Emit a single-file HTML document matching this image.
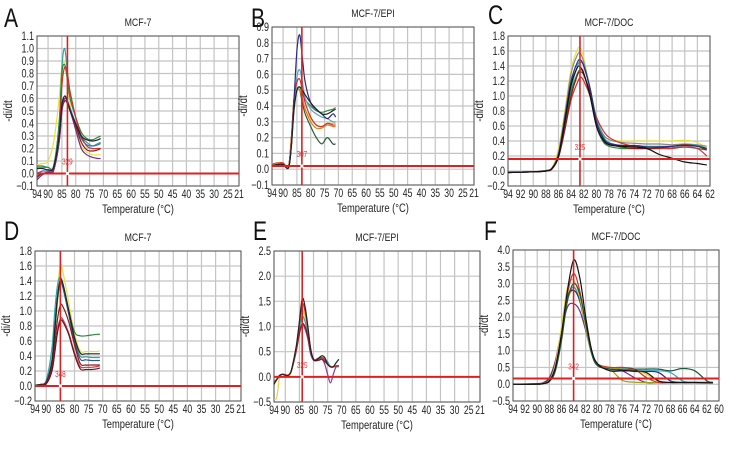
<!DOCTYPE html>
<html><head><meta charset="utf-8">
<style>
body{margin:0;background:#fff;}
svg{display:block;font-family:"Liberation Sans",sans-serif;}
</style></head>
<body>
<svg id="fig" width="733" height="451" viewBox="0 0 733 451"></svg>
<script>
// ---------- DATA ----------
const tempsA=[94,92,90,88,86,85,84,83,82,80,78,76,74,72,71];
const tealA=[0.05,0.05,0.05,0.06,0.4,0.85,1.0,0.8,0.6,0.45,0.3,0.25,0.22,0.24,0.25];
const greenA=[0.06,0.06,0.05,0.06,0.4,0.8,0.87,0.75,0.6,0.45,0.33,0.28,0.27,0.29,0.30];
const yellowA=[0.07,0.08,0.1,0.25,0.6,0.85,0.88,0.75,0.55,0.35,0.22,0.17,0.15,0.15,0.15];
const redA=[-0.02,0,0.01,0.02,0.3,0.7,0.85,0.8,0.65,0.45,0.3,0.22,0.2,0.2,0.2];
const blackA=[0.04,0.04,0.03,0.05,0.3,0.55,0.62,0.58,0.5,0.4,0.3,0.27,0.26,0.27,0.28];
const purpleA=[-0.05,-0.01,0.01,0.03,0.25,0.5,0.6,0.57,0.5,0.35,0.2,0.15,0.13,0.12,0.12];
const blueA=[0.0,0.02,0.02,0.04,0.3,0.55,0.6,0.58,0.52,0.4,0.28,0.23,0.22,0.23,0.24];
const darkredA=[-0.03,0,0.01,0.03,0.25,0.5,0.58,0.56,0.5,0.38,0.25,0.19,0.18,0.19,0.2];

const tempsB=[94,92,90,88,87,86,85,84,83,82,80,78,76,74,72,71];
const navyB=[0.02,0.03,0.03,0.01,0.15,0.45,0.75,0.85,0.7,0.55,0.42,0.38,0.35,0.32,0.35,0.33];
const lightblueB=[0.03,0.04,0.03,0.02,0.15,0.4,0.58,0.63,0.55,0.45,0.38,0.35,0.33,0.32,0.3,0.3];
const darkgreenB=[0.02,0.04,0.03,0.02,0.2,0.45,0.5,0.5,0.42,0.35,0.27,0.2,0.16,0.2,0.16,0.16];
const blackB=[0.02,0.03,0.03,0.01,0.15,0.38,0.5,0.52,0.5,0.47,0.42,0.38,0.35,0.35,0.37,0.38];
const redB=[0.03,0.04,0.04,0.02,0.2,0.45,0.55,0.57,0.5,0.42,0.33,0.28,0.27,0.29,0.28,0.28];
const orangeB=[0.02,0.04,0.03,0.02,0.18,0.42,0.5,0.5,0.45,0.38,0.3,0.26,0.26,0.28,0.27,0.27];
const greenB=[0.02,0.03,0.03,0.02,0.18,0.4,0.5,0.52,0.48,0.44,0.4,0.37,0.36,0.37,0.38,0.39];
const yellowB=[0.03,0.04,0.03,0.02,0.2,0.45,0.5,0.5,0.44,0.38,0.32,0.28,0.27,0.29,0.29,0.29];

const tempsC=[94,90,88,87,86,85,84,83,82.5,82,81,80,79,78,76,74,72,70,68,66,64,62.5];
const yellowC=[-0.02,-0.01,0.01,0.05,0.3,0.8,1.35,1.62,1.63,1.5,1.1,0.7,0.5,0.42,0.4,0.4,0.4,0.4,0.4,0.41,0.38,0.3];
const grayC=[-0.02,-0.01,0.01,0.04,0.25,0.75,1.3,1.55,1.56,1.45,1.1,0.7,0.5,0.42,0.38,0.37,0.36,0.36,0.35,0.36,0.35,0.33];
const redC=[-0.02,-0.01,0.0,0.03,0.2,0.55,0.95,1.18,1.25,1.2,1.0,0.72,0.55,0.45,0.37,0.33,0.3,0.3,0.3,0.32,0.3,0.2];
const tealC=[-0.02,-0.01,0.0,0.04,0.22,0.65,1.1,1.4,1.45,1.4,1.1,0.7,0.48,0.38,0.34,0.34,0.33,0.33,0.33,0.35,0.34,0.3];
const greenC=[-0.02,-0.01,0.0,0.03,0.2,0.6,1.05,1.3,1.35,1.3,1.0,0.6,0.4,0.33,0.3,0.3,0.3,0.3,0.31,0.32,0.3,0.28];
const darkredC=[-0.02,-0.01,0.0,0.03,0.18,0.55,1.0,1.28,1.32,1.28,1.05,0.65,0.45,0.36,0.32,0.3,0.3,0.31,0.33,0.35,0.33,0.28];
const navyC=[-0.02,-0.01,0.0,0.04,0.22,0.7,1.2,1.45,1.48,1.4,1.1,0.66,0.45,0.37,0.34,0.34,0.32,0.32,0.33,0.34,0.33,0.3];
const blackC=[-0.02,-0.01,0.0,0.04,0.2,0.65,1.15,1.38,1.38,1.3,1.0,0.6,0.42,0.35,0.33,0.32,0.3,0.22,0.17,0.12,0.1,0.08];

const tempsD=[94,92,90,88,87,86,85,84,82,80,78,76,74,72,71];
const yellowD=[0.01,0.02,0.05,0.3,0.75,1.3,1.62,1.5,1.1,0.7,0.47,0.46,0.46,0.46,0.47];
const tealD=[0.01,0.02,0.08,0.5,1.0,1.35,1.45,1.3,0.95,0.6,0.4,0.39,0.38,0.38,0.38];
const blackD=[0.01,0.02,0.05,0.3,0.75,1.2,1.42,1.35,1.0,0.65,0.44,0.43,0.43,0.43,0.43];
const greenD=[0.01,0.02,0.05,0.3,0.7,1.15,1.38,1.3,1.0,0.72,0.67,0.67,0.68,0.69,0.69];
const blueD=[0.01,0.02,0.06,0.35,0.8,1.2,1.4,1.3,0.95,0.6,0.36,0.35,0.34,0.34,0.34];
const darkredD=[0.0,0.01,0.04,0.25,0.55,0.9,1.08,1.05,0.85,0.55,0.3,0.28,0.28,0.28,0.28];
const redD=[0.0,0.01,0.03,0.2,0.45,0.75,0.9,0.88,0.7,0.45,0.26,0.25,0.25,0.26,0.27];
const maroonD=[0.0,0.01,0.03,0.2,0.45,0.72,0.87,0.85,0.68,0.42,0.23,0.22,0.22,0.23,0.24];

const tempsE=[94,93,92,91,90,89,88,87,86,85,84,83,82,81,80,79,78,77,76,75,74,73,72,71];
const yellowE=[-0.45,-0.4,0,0.05,0.05,0.02,0.08,0.3,0.55,0.95,1.3,1.2,0.9,0.5,0.33,0.33,0.37,0.4,0.35,0.28,0.22,0.2,0.2,0.2];
const tealE=[-0.12,-0.05,0.03,0.05,0.04,0.03,0.1,0.33,0.6,0.95,1.2,1.1,0.85,0.5,0.35,0.33,0.36,0.38,0.36,0.3,0.2,0.2,0.2,0.2];
const purpleE=[-0.1,-0.05,0.02,0.05,0.04,0.03,0.1,0.3,0.55,0.9,1.05,0.95,0.75,0.45,0.33,0.32,0.35,0.35,0.25,0.05,-0.12,0.05,0.2,0.22];
const darkredE=[-0.1,-0.05,0.02,0.05,0.04,0.03,0.09,0.3,0.55,0.85,1.05,1.0,0.8,0.5,0.35,0.32,0.33,0.35,0.3,0.25,0.2,0.2,0.22,0.22];
const redE=[-0.1,-0.05,0.02,0.05,0.04,0.03,0.1,0.32,0.6,1.05,1.45,1.3,0.95,0.55,0.35,0.35,0.38,0.38,0.33,0.25,0.2,0.2,0.22,0.22];
const blackE=[-0.15,-0.05,0.03,0.05,0.03,0.03,0.1,0.35,0.65,1.1,1.55,1.4,1.0,0.55,0.35,0.33,0.38,0.42,0.38,0.25,0.2,0.2,0.28,0.35];

const tempsF=[94,90,89,88,87,86,85,84,83,82,81,80,78,76,74,72,70,68,66,64,62,61];
const purpleF=[0,0.02,0.05,0.2,0.7,1.6,2.3,2.4,2.2,1.6,0.9,0.55,0.45,0.4,0.2,0.05,0.05,0.05,0.05,0.05,0.05,0.05];
const tealF=[0,0,0.02,0.08,0.45,1.4,2.5,2.9,2.5,1.7,0.9,0.55,0.45,0.4,0.4,0.4,0.4,0.35,0.1,0.05,0.05,0.05];
const oliveF=[0,0,0.02,0.1,0.5,1.4,2.5,2.8,2.5,1.7,0.9,0.55,0.45,0.12,0.06,0.05,0.05,0.05,0.05,0.05,0.05,0.05];
const navyF=[0,0.01,0.03,0.15,0.6,1.5,2.6,2.8,2.5,1.7,0.9,0.55,0.45,0.42,0.38,0.38,0.35,0.1,0.05,0.05,0.05,0.05];
const yellowF=[0,0,0.03,0.12,0.6,1.7,2.9,3.1,2.6,1.7,0.9,0.6,0.5,0.45,0.42,0.3,0.1,0.05,0.05,0.05,0.05,0.05];
const redF=[0,0,0.03,0.1,0.5,1.5,2.7,3.3,2.8,1.8,0.95,0.6,0.5,0.5,0.45,0.2,0.05,0.05,0.05,0.05,0.05,0.05];
const darkgreenF=[0,0,0.02,0.08,0.4,1.3,2.5,3.0,2.7,1.8,0.9,0.55,0.45,0.45,0.45,0.45,0.45,0.4,0.47,0.4,0.1,0.05];
const blackF=[0,0,0.02,0.1,0.5,1.5,2.8,3.7,3.2,2.0,1.0,0.6,0.4,0.4,0.4,0.35,0.1,0.05,0.05,0.05,0.04,0.04];

const ticks5=[94,90,85,80,75,70,65,60,55,50,45,40,35,30,25,21];
const ticksC=[94,92,90,88,86,84,82,80,78,76,74,72,70,68,66,64,62];
const ticksF=[94,92,90,88,86,84,82,80,78,76,74,72,70,68,66,64,62,60];
const yTicksA=[-0.1,0.0,0.1,0.2,0.3,0.4,0.5,0.6,0.7,0.8,0.9,1.0,1.1];
const yTicksB=[-0.1,0.0,0.1,0.2,0.3,0.4,0.5,0.6,0.7,0.8,0.9];
const yTicksC=[-0.2,0.0,0.2,0.4,0.6,0.8,1.0,1.2,1.4,1.6,1.8];
const yTicksE=[-0.5,0.0,0.5,1.0,1.5,2.0,2.5];
const yTicksF=[-0.5,0.0,0.5,1.0,1.5,2.0,2.5,3.0,3.5,4.0];

const panels=[
 {id:'a',letter:'A',lx:4,ly:27,title:'MCF-7',x0:37,x1:239,y0:36,y1:186,tmax:94,tmin:21,xt:ticks5,yt:yTicksA,dec:1,vt:83,th:0.0,lbl:'329',
  temps:tempsA,series:[[yellowA,'#e8e040'],[tealA,'#2aa8a0'],[greenA,'#2a8a3a'],[blueA,'#3a70c0'],[redA,'#d03030'],[darkredA,'#8a1a1a'],[purpleA,'#7a2a8a'],[blackA,'#222']]},
 {id:'b',letter:'B',lx:251,ly:27,title:'MCF-7/EPI',x0:272,x1:474,y0:27,y1:185,tmax:94,tmin:21,xt:ticks5,yt:yTicksB,dec:1,vt:83.2,th:0.02,lbl:'307',
  temps:tempsB,series:[[yellowB,'#e8d020'],[greenB,'#2a8a3a'],[darkgreenB,'#2a5a3a'],[lightblueB,'#5aa0d0'],[redB,'#d03030'],[orangeB,'#e08020'],[navyB,'#2a2a80'],[blackB,'#222']]},
 {id:'c',letter:'C',lx:488,ly:24,title:'MCF-7/DOC',x0:508,x1:710,y0:36,y1:186,tmax:94,tmin:62,xt:ticksC,yt:yTicksC,dec:1,vt:82.6,th:0.16,lbl:'325',
  temps:tempsC,series:[[yellowC,'#e8e040'],[grayC,'#888'],[tealC,'#2aa8a0'],[greenC,'#2a8a3a'],[redC,'#d03030'],[darkredC,'#8a1a1a'],[navyC,'#2a2a80'],[blackC,'#111']]},
 {id:'d',letter:'D',lx:4,ly:240,title:'MCF-7',x0:35,x1:241,y0:251,y1:401,tmax:94,tmin:21,xt:ticks5,yt:yTicksC,dec:1,vt:85,th:0.0,lbl:'348',
  temps:tempsD,series:[[yellowD,'#e8e040'],[tealD,'#2aa8a0'],[greenD,'#2a8a3a'],[blueD,'#2a5a90'],[blackD,'#222'],[darkredD,'#8a1a1a'],[redD,'#d04050'],[maroonD,'#6a1020']]},
 {id:'e',letter:'E',lx:253,ly:240,title:'MCF-7/EPI',x0:274,x1:480,y0:251,y1:402,tmax:94,tmin:21,xt:ticks5,yt:yTicksE,dec:1,vt:84,th:0.0,lbl:'325',
  temps:tempsE,series:[[yellowE,'#e8d040'],[tealE,'#2aa8a0'],[purpleE,'#8a3a9a'],[darkredE,'#8a1a1a'],[redE,'#d03030'],[blackE,'#222']]},
 {id:'f',letter:'F',lx:484,ly:240,title:'MCF-7/DOC',x0:513,x1:719,y0:250,y1:401,tmax:94,tmin:60,xt:ticksF,yt:yTicksF,dec:1,vt:84,th:0.17,lbl:'342',
  temps:tempsF,series:[[purpleF,'#7a2a8a'],[tealF,'#2aa8c0'],[oliveF,'#a0a020'],[navyF,'#2a2a80'],[yellowF,'#e8d020'],[redF,'#d03030'],[darkgreenF,'#1a5a3a'],[blackF,'#111']]}
];

const NS='http://www.w3.org/2000/svg';
const svg=document.getElementById('fig');
function mk(tag,attrs,parent){const e=document.createElementNS(NS,tag);for(const k in attrs)e.setAttribute(k,attrs[k]);(parent||svg).appendChild(e);return e;}
// condensed text: positioned via transform with horizontal squeeze
function ctext(x,y,str,size,anchor,fill,parent,sx,rot){
 const tr='translate('+x.toFixed(1)+','+y.toFixed(1)+')'+(rot?' rotate(-90)':'')+' scale('+(sx||0.75)+',1)';
 const t=mk('text',{x:0,y:0,'font-size':size,'text-anchor':anchor,fill:fill,transform:tr},parent);
 t.textContent=str;return t;}
function smooth(pts){let d='M'+pts[0][0].toFixed(1)+','+pts[0][1].toFixed(1);
 for(let i=0;i<pts.length-1;i++){const p0=pts[i-1]||pts[i],p1=pts[i],p2=pts[i+1],p3=pts[i+2]||p2;
  const c1=[p1[0]+(p2[0]-p0[0])/6,p1[1]+(p2[1]-p0[1])/6],c2=[p2[0]-(p3[0]-p1[0])/6,p2[1]-(p3[1]-p1[1])/6];
  d+=' C'+c1[0].toFixed(1)+','+c1[1].toFixed(1)+' '+c2[0].toFixed(1)+','+c2[1].toFixed(1)+' '+p2[0].toFixed(1)+','+p2[1].toFixed(1);}
 return d;}

panels.forEach(p=>{
 const ymin=p.yt[0],ymax=p.yt[p.yt.length-1];
 const X=t=>p.x0+(p.tmax-t)/(p.tmax-p.tmin)*(p.x1-p.x0);
 const Y=v=>p.y1-(v-ymin)/(ymax-ymin)*(p.y1-p.y0);
 const g=mk('g',{});
 
 
 const lt=ctext(p.lx,p.ly,p.letter,27,'start','#111',g,0.78);
 
 
 const tt=ctext((p.x0+p.x1)/2,p.y0-10,p.title,11,'middle','#222',g,0.8);
 
 
 const bg=mk('rect',{x:p.x0,y:p.y0,width:p.x1-p.x0,height:p.y1-p.y0,fill:'#fff'},g);
 
 
 p.xt.forEach(t=>{const l=mk('line',{x1:X(t),x2:X(t),y1:p.y0,y2:p.y1,stroke:'#c4c4c4','stroke-width':1.2},g);
  
  
  const tx=ctext(X(t),p.y1+12,String(t),12,'middle','#222',g,0.72);
  
  });
 p.yt.forEach(v=>{const l=mk('line',{x1:p.x0,x2:p.x1,y1:Y(v),y2:Y(v),stroke:'#c4c4c4','stroke-width':1.2},g);
  
  
  const tx=ctext(p.x0-3,Y(v)+4,(v<0?'\u2212'+Math.abs(v).toFixed(p.dec):v.toFixed(p.dec)),12,'end','#222',g,0.75);
  
  });
 const fr=mk('rect',{x:p.x0,y:p.y0,width:p.x1-p.x0,height:p.y1-p.y0,fill:'none',stroke:'#555','stroke-width':1},g);
 
 
 const xa=ctext((p.x0+p.x1)/2,p.y1+27,'Temperature (\u00B0C)',12,'middle','#222',g,0.78);
 
 
 const yc=(p.y0+p.y1)/2;
 const ya=ctext(p.x0-25,yc,'-di/dt',12,'middle','#222',g,0.8,true);
 
 
 p.series.forEach((s,i)=>{const pts=p.temps.map((t,j)=>[X(t),Y(s[0][j])]);
  const path=mk('path',{d:smooth(pts),fill:'none',stroke:s[1],'stroke-width':1.2},g);
  
  });
 const hl=mk('line',{x1:p.x0,x2:p.x1,y1:Y(p.th),y2:Y(p.th),stroke:'#e02020','stroke-width':2},g);
 
 
 const vl=mk('line',{x1:X(p.vt),x2:X(p.vt),y1:p.y0,y2:p.y1,stroke:'#e02020','stroke-width':1.6},g);
 
 
 const dot=mk('circle',{cx:X(p.vt),cy:Y(p.th),r:1.6,fill:'#fff'},g);
 
 
 const ml=ctext(X(p.vt),Y(p.th)-9,p.lbl,8,'middle','#e03030',g,0.8);
 
 
});
</script>
</body></html>
